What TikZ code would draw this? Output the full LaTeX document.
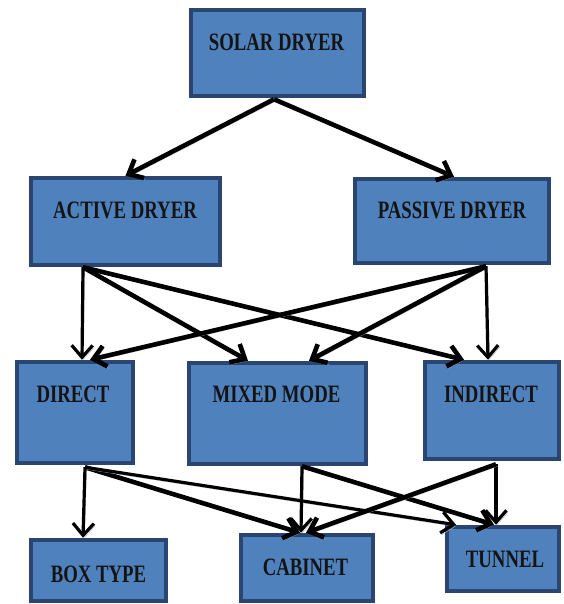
\documentclass[tikz,border=0pt]{standalone}
\usepackage{fontspec}
\setmainfont{Liberation Serif}
\usetikzlibrary{arrows.meta,calc}
\definecolor{boxfill}{HTML}{4F81BD}
\definecolor{boxline}{HTML}{2A4570}
\tikzset{
  box/.style={draw=boxline, line width=4.5pt, fill=boxfill, inner sep=0pt},
  txt/.style={font=\fontsize{25}{27}\selectfont\bfseries, xscale=0.75, inner sep=0pt, anchor=base, text=black!92},
  tipA/.tip={Straight Barb[length=12pt,width=21pt]},
  arr/.style={draw=black, line width=3.2pt, -tipA,
    preaction={draw=black!30, transform canvas={shift={(1.5pt,-2pt)}}, -tipA}},
  tarr/.style={arr, line width=4.6pt},
}
\begin{document}
\begin{tikzpicture}[x=1pt,y=-1pt]
\useasboundingbox (0,0) rectangle (563,604);
% boxes
\node[box, minimum width=173pt, minimum height=86pt] (solar) at (277.5,53) {};
\node[box, minimum width=189pt, minimum height=87pt] (active) at (125.5,221.5) {};
\node[box, minimum width=194pt, minimum height=84pt] (passive) at (452,221) {};
\node[box, minimum width=116pt, minimum height=101pt] (direct) at (75,412.5) {};
\node[box, minimum width=177pt, minimum height=101pt] (mixed) at (277.5,413.5) {};
\node[box, minimum width=134pt, minimum height=97pt] (indirect) at (492,410.5) {};
\node[box, minimum width=135pt, minimum height=61pt] (boxtype) at (98.5,570.5) {};
\node[box, minimum width=132pt, minimum height=66pt] (cabinet) at (307,568) {};
\node[box, minimum width=112pt, minimum height=64pt] (tunnel) at (503,559) {};
% texts
\node[txt] (solar-t) at (276.5,51) {SOLAR DRYER};
\node[txt] (active-t) at (125,218) {ACTIVE DRYER};
\node[txt] (passive-t) at (452,218) {PASSIVE DRYER};
\node[txt] (direct-t) at (73,402) {DIRECT};
\node[txt] (mixed-t) at (276.5,402) {MIXED MODE};
\node[txt] (indirect-t) at (491,402) {INDIRECT};
\node[txt] (boxtype-t) at (98.5,582) {BOX TYPE};
\node[txt] (cabinet-t) at (305.5,575) {CABINET};
\node[txt] (tunnel-t) at (505,567) {TUNNEL};
% source coordinates
\coordinate (sS) at ([xshift=-3.5pt,yshift=-1pt]solar.south);
\coordinate (aS) at ([xshift=-42.5pt]active.south);
\coordinate (pS) at ([xshift=34pt,yshift=-1pt]passive.south);
\coordinate (dS) at ([xshift=10pt,yshift=-2pt]direct.south);
\coordinate (mS) at ([xshift=24.5pt]mixed.south);
\coordinate (iS) at ([xshift=4pt,yshift=-3pt]indirect.south);
% level 1
\draw[tarr] (sS) -- (active.north);
\draw[tarr] (sS) -- ([xshift=2pt]passive.north);
% level 2
\draw[arr] (aS) -- ([xshift=7pt]direct.north);
\draw[tarr] (aS) -- ([xshift=-29.5pt]mixed.north);
\draw[tarr] (aS) -- ([xshift=-28pt]indirect.north);
\draw[tarr] (pS) -- ([xshift=15pt]direct.north);
\draw[tarr] (pS) -- ([xshift=31.5pt]mixed.north);
\draw[arr] (pS) -- ([xshift=-4pt]indirect.north);
% level 3
\draw[arr] (dS) -- ([xshift=-15.5pt]boxtype.north);
\draw[tarr] (dS) -- ([xshift=-7pt]cabinet.north);
\draw[arr] (dS) -- ([xshift=-47pt]tunnel.north);
\draw[arr] (mS) -- ([xshift=-6pt]cabinet.north);
\draw[tarr] (mS) -- ([xshift=-9pt]tunnel.north);
\draw[arr] (iS) -- ([xshift=-7pt]tunnel.north);
\draw[tarr] (iS) -- ([xshift=-1pt]cabinet.north);
\end{tikzpicture}
\end{document}
